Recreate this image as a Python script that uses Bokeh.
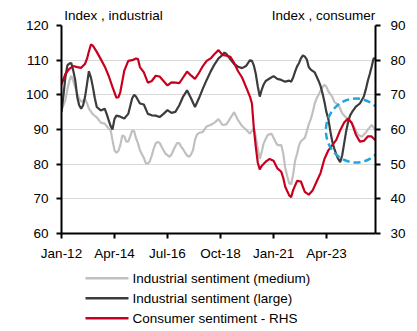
import pandas as pd
from bokeh.plotting import figure
from bokeh.layouts import column
from bokeh.core.properties import value
from bokeh.models import (Range1d, LinearAxis, FixedTicker, DatetimeTickFormatter)
from bokeh.embed import file_html
from bokeh.resources import INLINE

# ---------------- data ----------------
medium_dates = ["2012-01","2012-03","2012-04","2012-05","2012-06","2012-07","2012-08","2012-09","2012-10","2012-11",
    "2013-01","2013-02","2013-03","2013-05","2013-07","2013-09","2013-11",
    "2014-01","2014-02","2014-03","2014-04","2014-05","2014-06","2014-07","2014-08","2014-09","2014-10","2014-11","2014-12",
    "2015-01","2015-02","2015-03","2015-04","2015-05","2015-07","2015-08","2015-09","2015-10","2015-11","2015-12",
    "2016-01","2016-02","2016-03","2016-04","2016-05","2016-06","2016-07","2016-08","2016-09","2016-10","2016-11","2016-12",
    "2017-01","2017-02","2017-03","2017-04","2017-05","2017-06","2017-07","2017-08","2017-09","2017-10","2017-11",
    "2018-01","2018-03","2018-05","2018-07","2018-09","2018-11",
    "2019-01","2019-03","2019-05","2019-07","2019-09","2019-11",
    "2020-01","2020-03","2020-04","2020-05","2020-06","2020-07","2020-08","2020-10","2020-12",
    "2021-02","2021-03","2021-05","2021-06","2021-07","2021-08","2021-09","2021-10","2021-11","2021-12",
    "2022-01","2022-02","2022-03","2022-05","2022-06","2022-07","2022-08","2022-09","2022-10","2022-11","2022-12",
    "2023-01","2023-02","2023-03","2023-04","2023-05","2023-06","2023-07","2023-08","2023-09","2023-10","2023-11","2023-12",
    "2024-01","2024-02","2024-03","2024-04","2024-05","2024-06","2024-07","2024-08","2024-09","2024-10","2024-11","2024-12",
    "2025-01","2025-02","2025-03","2025-04","2025-05"]
medium_values = [95.5,98.5,101.5,104.0,105.5,104.0,102.2,100.3,99.0,98.0,
    98.7,97.5,96.0,94.4,93.5,92.0,91.7,
    90.3,89.8,87.0,84.0,83.3,83.8,85.5,88.3,88.0,86.5,86.5,88.0,
    89.7,89.5,87.5,86.0,84.0,81.8,80.2,80.2,80.8,82.5,84.5,
    86.0,86.4,86.2,85.0,84.0,83.0,82.6,82.1,82.8,84.0,85.2,86.2,
    86.0,85.0,84.3,83.3,82.5,82.1,82.8,84.0,87.0,88.5,89.0,
    89.3,90.9,91.3,92.0,93.0,91.3,
    91.5,93.2,95.0,92.7,91.0,90.0,
    88.8,90.3,88.0,84.5,81.5,83.5,86.0,88.4,88.8,
    86.5,85.5,85.5,83.0,79.0,76.5,74.5,74.2,77.0,81.0,
    83.0,85.5,86.6,87.6,89.5,91.5,93.0,95.0,97.5,99.0,100.0,
    101.3,102.2,102.9,102.3,101.0,100.2,99.4,98.0,97.5,97.2,96.0,94.7,
    94.0,93.5,92.8,92.5,91.5,90.8,89.7,88.5,88.2,87.9,88.5,89.1,
    90.0,90.6,91.3,90.6,89.8]

large_dates = ["2012-01","2012-02","2012-03","2012-04","2012-05","2012-06","2012-07","2012-08","2012-09","2012-10","2012-11","2012-12",
    "2013-01","2013-02","2013-03","2013-04","2013-05","2013-06","2013-07","2013-09","2013-11","2013-12",
    "2014-01","2014-02","2014-03","2014-04","2014-05","2014-07","2014-09","2014-11",
    "2015-01","2015-02","2015-03","2015-05","2015-07","2015-09","2015-11",
    "2016-01","2016-03","2016-05","2016-07","2016-09","2016-11",
    "2017-01","2017-03","2017-05","2017-07","2017-09","2017-11",
    "2018-01","2018-03","2018-05","2018-07","2018-09","2018-11","2018-12",
    "2019-01","2019-03","2019-05","2019-07","2019-09","2019-11",
    "2020-01","2020-02","2020-03","2020-04","2020-05","2020-06","2020-07","2020-08","2020-09","2020-11",
    "2021-01","2021-03","2021-05","2021-07","2021-09","2021-10","2021-11","2021-12",
    "2022-01","2022-02","2022-03","2022-04","2022-05","2022-06","2022-07","2022-08","2022-10","2022-12",
    "2023-01","2023-02","2023-03","2023-04","2023-05","2023-06","2023-07","2023-08","2023-09","2023-10","2023-11","2023-12",
    "2024-01","2024-02","2024-03","2024-04","2024-05","2024-07","2024-09","2024-11","2024-12",
    "2025-01","2025-02","2025-03","2025-04","2025-05"]
large_values = [95.0,100.0,105.0,108.5,109.0,109.2,107.0,104.2,99.4,97.0,96.0,97.0,
    99.5,103.3,106.8,105.0,102.3,99.0,96.5,95.5,96.0,94.5,
    92.7,91.0,90.0,93.0,94.0,93.7,93.2,94.5,
    99.0,100.0,99.5,97.5,97.2,94.5,94.1,
    94.0,93.6,94.5,95.6,94.8,95.1,
    97.0,99.5,101.3,99.0,96.5,99.0,
    101.8,104.3,106.7,108.8,110.5,111.5,112.2,
    111.8,110.3,108.9,108.1,107.7,108.3,
    110.0,109.8,108.5,106.0,102.5,99.5,101.4,103.0,104.0,104.7,
    105.4,104.6,104.3,103.8,104.1,103.8,105.0,106.7,
    108.2,109.2,110.5,111.4,111.0,110.2,108.0,107.3,106.5,104.0,
    102.5,100.3,98.0,95.0,93.0,89.5,86.5,84.5,82.8,81.5,80.6,82.5,
    86.0,89.5,92.0,94.0,95.0,96.6,97.5,99.5,101.5,
    104.0,106.0,108.0,110.5,110.5]

consumer_dates = ["2012-01","2012-03","2012-05","2012-07","2012-09","2012-11",
    "2013-01","2013-02","2013-03","2013-04","2013-05","2013-07","2013-09","2013-11",
    "2014-01","2014-03","2014-05","2014-06","2014-07","2014-09","2014-11",
    "2015-01","2015-03","2015-04","2015-05","2015-07","2015-09","2015-11",
    "2016-01","2016-03","2016-05","2016-07","2016-09","2016-11",
    "2017-01","2017-03","2017-05","2017-07","2017-09","2017-11",
    "2018-01","2018-03","2018-05","2018-07","2018-09","2018-11",
    "2019-01","2019-03","2019-05","2019-07","2019-09","2019-11",
    "2020-01","2020-02","2020-03","2020-04","2020-05","2020-06","2020-07","2020-09","2020-11",
    "2021-01","2021-03","2021-05","2021-06","2021-07","2021-09","2021-10","2021-11",
    "2022-01","2022-03","2022-05","2022-07","2022-09","2022-11",
    "2023-01","2023-03","2023-05","2023-07","2023-09","2023-11",
    "2024-01","2024-03","2024-05","2024-07","2024-09","2024-11",
    "2025-01","2025-03","2025-05"]
consumer_values = [73.0,76.0,77.5,78.3,78.0,77.8,
    79.0,80.5,82.5,84.5,84.2,82.4,80.3,78.2,
    75.5,72.3,69.2,69.3,70.8,77.0,79.8,
    80.0,80.5,80.3,78.0,76.5,73.5,74.0,
    75.5,75.3,74.0,72.7,73.6,73.5,
    73.4,75.0,76.7,75.6,74.6,76.3,
    78.3,79.8,80.5,81.8,82.9,81.5,
    81.3,81.0,79.2,76.8,75.0,72.3,
    69.5,67.5,60.5,55.0,50.5,48.5,49.5,50.7,51.5,
    51.0,48.8,47.8,46.0,43.5,41.0,40.5,42.5,
    45.2,45.0,42.0,41.2,42.5,45.0,
    47.5,51.5,54.0,55.5,57.0,59.8,
    62.0,63.2,61.8,58.5,56.5,56.7,
    58.0,58.0,56.9]

series_labels = ["Industrial sentiment (medium)", "Industrial sentiment (large)", "Consumer sentiment - RHS"]
left_ticks = [60, 70, 80, 90, 100, 110, 120]
right_ticks = [30, 40, 50, 60, 70, 80, 90]
x_tick_dates = ["2012-01-01", "2014-04-01", "2016-07-01", "2018-10-01", "2021-01-01", "2023-04-01"]
x_start, x_end = "2012-01-01", "2025-05-01"
axis_titles = {52: "Index , industrial", 262: "Index , consumer"}   # centre, px from plot's left edge
highlight_center = ("2024-07-01", 89.7)   # dashed circle around the latest readings

# ---------------- styling ----------------
FONT = "Liberation Sans"
FS = "13.5px"
GRAY, DARK, RED, CYAN = "#C0C0C0", "#3C3C3C", "#C8001E", "#1FA5DD"
SERIES_COLORS = [GRAY, DARK, RED]
LW = 2.2
WIDTH = 417
FRAME_L, FRAME_R = 61, 375
FRAME_W = FRAME_R - FRAME_L
MAIN_H = 265
LEG_H = 331 - MAIN_H

p = figure(width=WIDTH, height=MAIN_H, x_axis_type="datetime", output_backend="svg",
           toolbar_location=None,
           x_range=Range1d(pd.Timestamp(x_start), pd.Timestamp(x_end)),
           y_range=Range1d(left_ticks[0], left_ticks[-1]),
           min_border_left=FRAME_L, min_border_right=WIDTH - FRAME_R,
           min_border_top=25, min_border_bottom=32)
p.extra_y_ranges = {"rhs": Range1d(right_ticks[0], right_ticks[-1])}
p.extra_x_ranges = {"px": Range1d(0, FRAME_W)}
p.outline_line_color = None
p.xgrid.grid_line_color = None
p.ygrid.grid_line_color = "#D9D9D9"
p.ygrid.grid_line_width = 1

def style_axis(ax):
    ax.axis_line_color = "black"
    ax.axis_line_width = 2
    ax.major_tick_line_color = "black"
    ax.major_tick_line_width = 2
    ax.major_tick_out = 5
    ax.major_tick_in = 0
    ax.minor_tick_line_color = None
    ax.major_label_text_font = FONT
    ax.major_label_text_font_size = FS
    ax.major_label_text_color = "black"

ly = p.yaxis[0]
ly.ticker = FixedTicker(ticks=left_ticks)
style_axis(ly)
ly.major_label_standoff = 8

ry = LinearAxis(y_range_name="rhs", ticker=FixedTicker(ticks=right_ticks))
style_axis(ry)
ry.major_label_standoff = 10
p.add_layout(ry, "right")

xa = p.xaxis[0]
xa.ticker = FixedTicker(ticks=[pd.Timestamp(d).value / 1e6 for d in x_tick_dates])
xa.formatter = DatetimeTickFormatter(years="%b-%y", months="%b-%y", days="%b-%y",
                                     hours="%b-%y", minutes="%b-%y", seconds="%b-%y",
                                     milliseconds="%b-%y", microseconds="%b-%y")
style_axis(xa)
xa.major_label_standoff = 7

# top "axis" that only carries the two axis titles
ta = LinearAxis(x_range_name="px", ticker=FixedTicker(ticks=list(axis_titles.keys())),
                major_label_overrides={k: v for k, v in axis_titles.items()})
style_axis(ta)
ta.axis_line_color = None
ta.major_tick_line_color = None
ta.major_tick_out = 0
ta.major_label_standoff = 3
p.add_layout(ta, "above")

p.line(pd.to_datetime(medium_dates), medium_values, line_color=GRAY, line_width=LW)
p.line(pd.to_datetime(large_dates), large_values, line_color=DARK, line_width=LW)
p.line(pd.to_datetime(consumer_dates), consumer_values, line_color=RED, line_width=LW,
       y_range_name="rhs")

p.ellipse(x=[pd.Timestamp(highlight_center[0])], y=[highlight_center[1]],
          width=60, height=64, width_units="screen", height_units="screen",
          fill_color=None, line_color=CYAN, line_width=2.5, line_dash="7 4")

# ---------------- legend strip below ----------------
# the column aligns this strip's frame with the chart's frame, so its x range is
# expressed in page pixels over that frame; y runs downward from the strip's top
lg = figure(width=WIDTH, height=LEG_H, output_backend="svg", toolbar_location=None,
            x_range=Range1d(FRAME_L, FRAME_R), y_range=Range1d(LEG_H, 0),
            x_axis_location=None, y_axis_location=None,
            min_border_left=FRAME_L, min_border_right=WIDTH - FRAME_R,
            min_border_top=0, min_border_bottom=0)
lg.outline_line_color = None
lg.xgrid.grid_line_color = None
lg.ygrid.grid_line_color = None
row_y = [12.7, 32.7, 52.7]
lg.segment(x0=[85] * 3, x1=[128] * 3, y0=row_y, y1=row_y,
           line_color=SERIES_COLORS, line_width=2.6, line_cap="butt")
lg.text(x=[132] * 3, y=row_y, text=series_labels, text_baseline="middle", text_align="left",
        text_font=value(FONT), text_font_size=value(FS), text_color="black")

open("out.html", "w").write(file_html(column(p, lg, spacing=0), INLINE))
